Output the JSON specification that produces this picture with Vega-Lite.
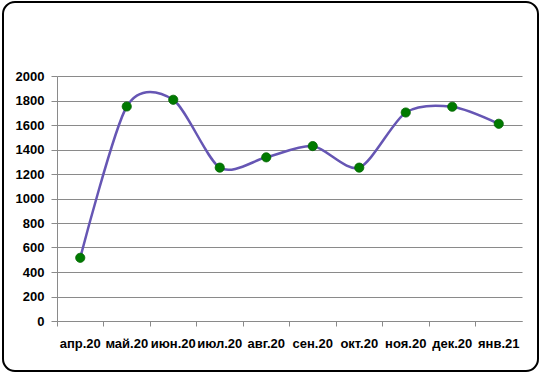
{
  "$schema": "https://vega.github.io/schema/vega-lite/v6.json",
  "width": 535,
  "height": 369,
  "autosize": {"type": "none"},
  "padding": {"left": 3, "top": 2, "right": 2, "bottom": 4},
  "background": "white",
  "view": {"stroke": "black", "strokeWidth": 2, "cornerRadius": 12, "fill": "white"},
  "data": {
    "values": [
      {"month": "апр.20", "value": 516},
      {"month": "май.20", "value": 1751},
      {"month": "июн.20", "value": 1806},
      {"month": "июл.20", "value": 1252},
      {"month": "авг.20", "value": 1336},
      {"month": "сен.20", "value": 1428},
      {"month": "окт.20", "value": 1252},
      {"month": "ноя.20", "value": 1702},
      {"month": "дек.20", "value": 1749},
      {"month": "янв.21", "value": 1610}
    ]
  },
  "encoding": {
    "x": {
      "field": "month",
      "type": "ordinal",
      "sort": null,
      "scale": {"type": "band", "range": [54, 519], "paddingInner": 0, "paddingOuter": 0},
      "axis": {
        "title": null,
        "offset": -50,
        "bandPosition": 0,
        "grid": false,
        "domainColor": "#8a8a8a",
        "domainWidth": 1,
        "tickColor": "#8a8a8a",
        "tickSize": 5,
        "labelPadding": 11,
        "labelAngle": 0,
        "labelOverlap": false,
        "labelFont": "Liberation Sans",
        "labelFontSize": 13,
        "labelFontWeight": "bold",
        "labelColor": "black"
      }
    },
    "y": {
      "field": "value",
      "type": "quantitative",
      "scale": {"domain": [0, 2000], "range": [319, 74], "nice": false},
      "axis": {
        "title": null,
        "offset": -54,
        "format": "d",
        "values": [0, 200, 400, 600, 800, 1000, 1200, 1400, 1600, 1800, 2000],
        "grid": true,
        "gridColor": "#8a8a8a",
        "gridWidth": 1,
        "gridOpacity": 1,
        "domainColor": "#8a8a8a",
        "domainWidth": 1,
        "tickColor": "#8a8a8a",
        "tickSize": 6,
        "labelPadding": 7,
        "labelFont": "Liberation Sans",
        "labelFontSize": 13,
        "labelFontWeight": "bold",
        "labelColor": "black"
      }
    }
  },
  "layer": [
    {"mark": {"type": "line", "interpolate": "cardinal", "tension": 0.18, "color": "#6656b4", "strokeWidth": 2.5}},
    {"mark": {"type": "point", "filled": true, "size": 85, "color": "#007a00", "opacity": 1, "stroke": "#006400", "strokeWidth": 0.8}}
  ]
}
